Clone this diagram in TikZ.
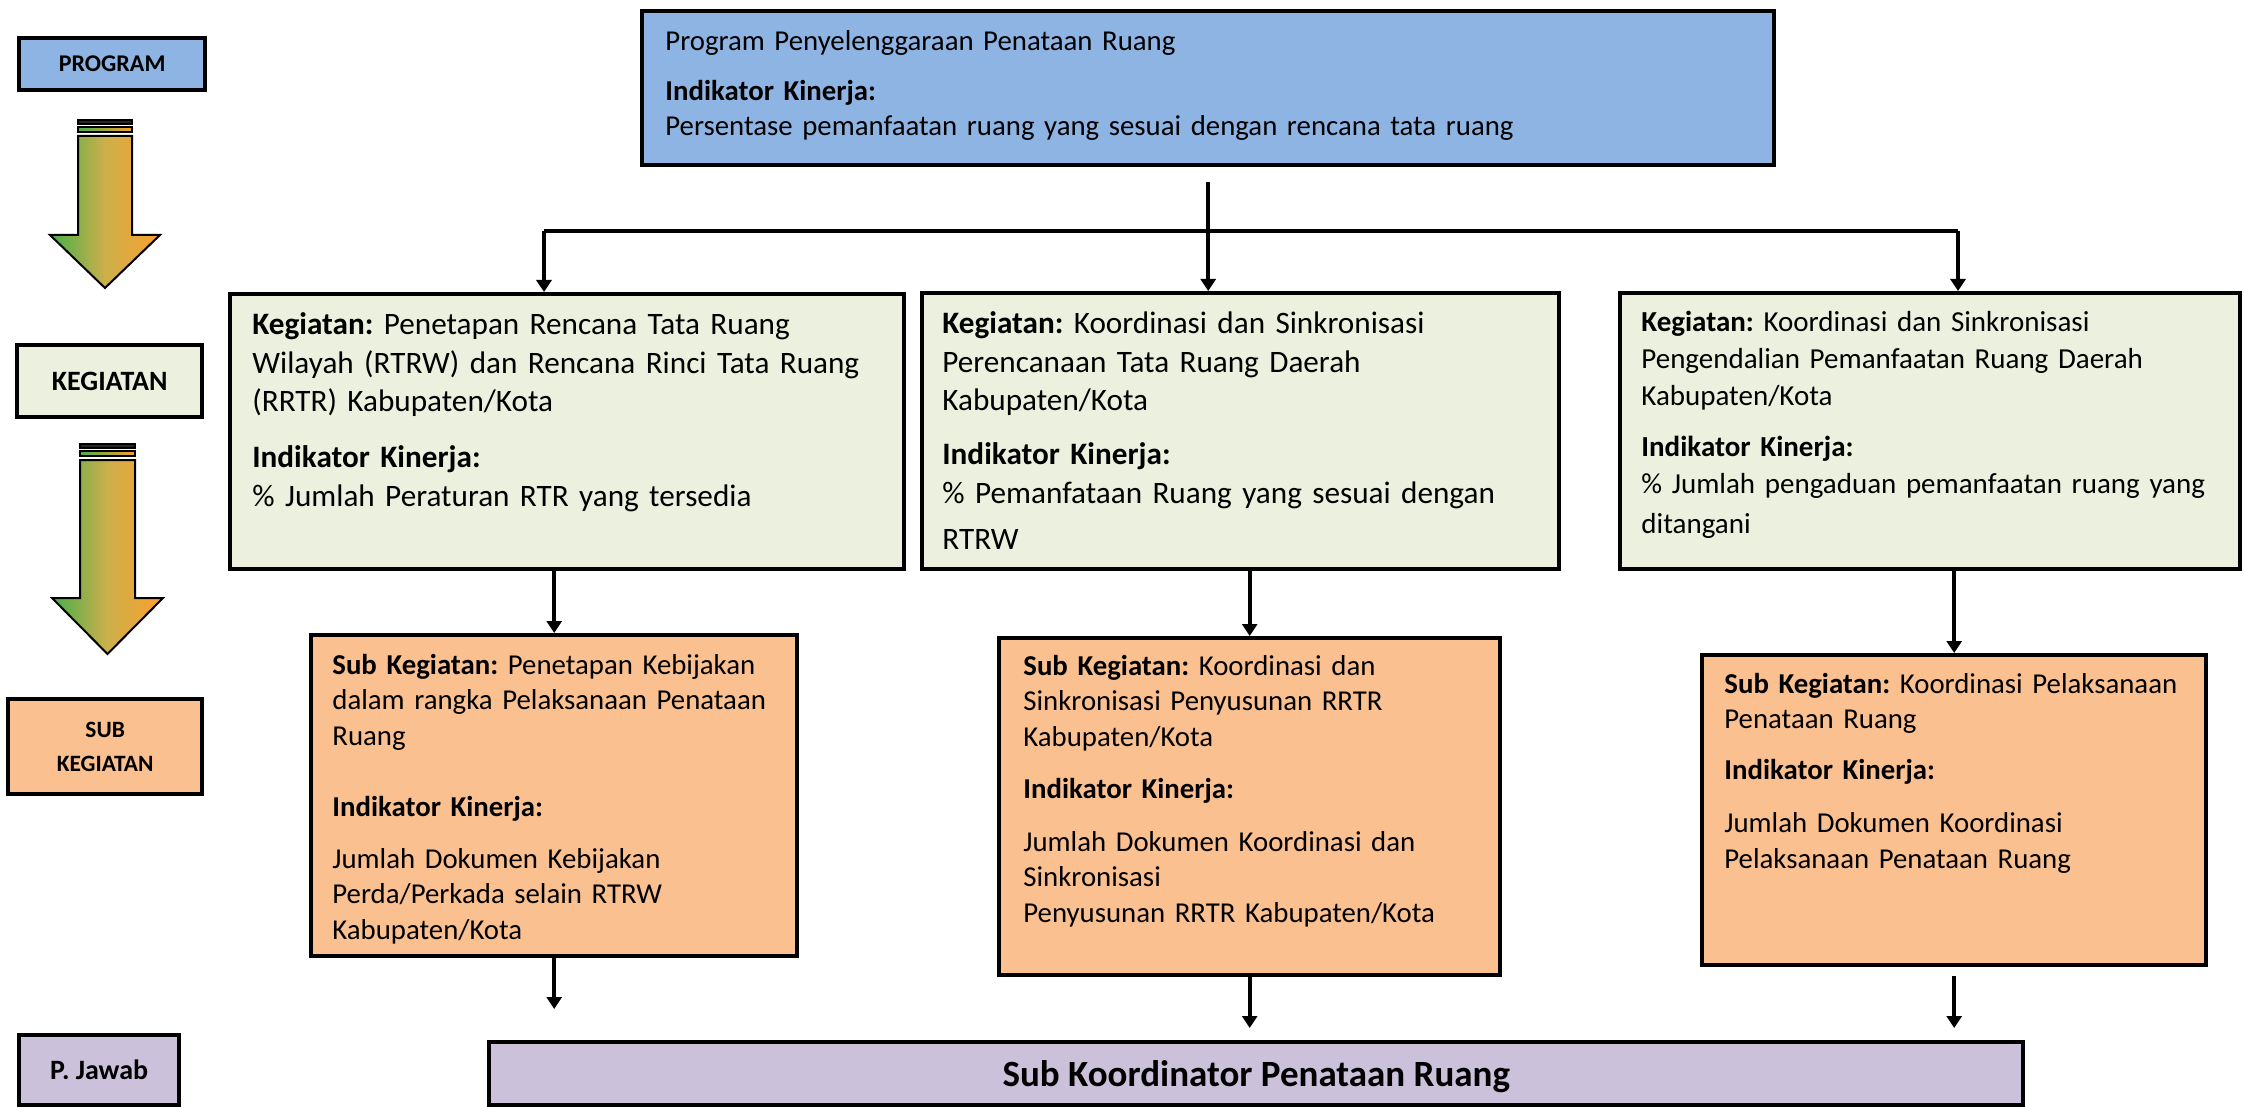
\documentclass[tikz,border=0pt]{standalone}
\usepackage{fontspec}
\setmainfont{Carlito}
\usetikzlibrary{arrows.meta,calc}
\definecolor{progblue}{HTML}{8EB4E3}
\definecolor{kegfill}{HTML}{EBF1DE}
\definecolor{subfill}{HTML}{FAC090}
\definecolor{pjfill}{HTML}{CCC1DA}
\definecolor{agreen}{RGB}{70,175,75}
\definecolor{aolive}{RGB}{205,175,75}
\definecolor{aorange}{RGB}{250,160,45}
\frenchspacing
\begin{document}
\begin{tikzpicture}[x=0.5pt,y=-0.5pt,
  box/.style={draw=black, line width=2.2pt, rectangle, inner sep=0pt, anchor=north west},
  progbox/.style={box, fill=progblue},
  kegbox/.style={box, fill=kegfill},
  subbox/.style={box, fill=subfill},
  pjbox/.style={box, fill=pjfill},
  lbl/.style={align=center, font=\bfseries},
  txt/.style={anchor=base west, inner sep=0pt, align=left, text width=600pt},
  bigtxt/.style={txt, font=\fontsize{15.6}{19.25}\selectfont},
  midtxt/.style={txt, font=\fontsize{14.4}{17.75}\selectfont},
  conn/.style={line width=2pt},
  arr/.style={conn, -{Triangle[length=6pt,width=7.5pt]}},
  flowarrow/.style={draw=black, line width=1pt, line join=miter, left color=agreen, right color=aorange, middle color=aolive},
  stripe/.style={draw=black, line width=0.8pt}
]
\useasboundingbox (0,0) rectangle (2244,1107);
\fill[white] (0,0) rectangle (2244,1107);

% ---------- left legend ----------
\node[progbox, minimum width=93pt, minimum height=26pt, lbl, font=\bfseries\fontsize{12}{14}\selectfont] (lprog) at (17,36) {PROGRAM};
\node[kegbox, minimum width=92.5pt, minimum height=36pt, lbl, font=\bfseries\fontsize{14}{17}\selectfont] (lkeg) at (15,343) {KEGIATAN};
\node[subbox, minimum width=97pt, minimum height=47.5pt, lbl, font=\bfseries\fontsize{11.7}{17}\selectfont] (lsub) at (6,697) {SUB\\KEGIATAN};
\node[pjbox, minimum width=80pt, minimum height=35pt, lbl, font=\bfseries\fontsize{14}{17}\selectfont] (lpj) at (17,1033) {P. Jawab};

% gradient arrows
\path[stripe, fill=black!85] (78,120) rectangle (132,124);
\path[stripe, left color=agreen, right color=aorange] (78,127) rectangle (132,132);
\path[flowarrow] (78,136) -- (132,136) -- (132,235) -- (160,235) -- (105,288) -- (50,235) -- (78,235) -- cycle;

\path[stripe, fill=black!85] (80,444) rectangle (135,448);
\path[stripe, left color=agreen, right color=aorange] (80,451) rectangle (135,456);
\path[flowarrow] (80,460) -- (135,460) -- (135,598) -- (163,598) -- (107.5,654) -- (52,598) -- (80,598) -- cycle;

% ---------- program ----------
\node[progbox, minimum width=566pt, minimum height=77pt] (prog) at (640,9) {};
\node[midtxt] (progt) at (665,51) {Program Penyelenggaraan Penataan Ruang\\[7pt]
\textbf{Indikator Kinerja:}\\
Persentase pemanfaatan ruang yang sesuai dengan rencana tata ruang};

% ---------- kegiatan ----------
\node[kegbox, minimum width=337pt, minimum height=137.5pt] (k1) at (228,292) {};
\node[bigtxt] (k1t) at (252,335) {\textbf{Kegiatan:} Penetapan Rencana Tata Ruang\\
Wilayah (RTRW) dan Rencana Rinci Tata Ruang\\
(RRTR) Kabupaten/Kota\\[8.75pt]
\textbf{Indikator Kinerja:}\\
\% Jumlah Peraturan RTR yang tersedia};

\node[kegbox, minimum width=318.5pt, minimum height=138pt] (k2) at (920,291) {};
\node[bigtxt] (k2t) at (942,334) {\textbf{Kegiatan:} Koordinasi dan Sinkronisasi\\
Perencanaan Tata Ruang Daerah\\
Kabupaten/Kota\\[7.75pt]
\textbf{Indikator Kinerja:}\\
\% Pemanfataan Ruang yang sesuai dengan\\[3.75pt]
RTRW};

\node[kegbox, minimum width=310pt, minimum height=138pt] (k3) at (1618,291) {};
\node[txt, font=\fontsize{14.5}{18.25}\selectfont] (k3t) at (1641,332) {\textbf{Kegiatan:} Koordinasi dan Sinkronisasi\\
Pengendalian Pemanfaatan Ruang Daerah\\
Kabupaten/Kota\\[7.75pt]
\textbf{Indikator Kinerja:}\\
\% Jumlah pengaduan pemanfaatan ruang yang\\[1.75pt]
ditangani};

% ---------- sub kegiatan ----------
\node[subbox, minimum width=243pt, minimum height=160.5pt] (s1) at (309,633) {};
\node[midtxt] (s1t) at (332,674) {\textbf{Sub Kegiatan:} Penetapan Kebijakan\\
dalam rangka Pelaksanaan Penataan\\
Ruang\\[17.75pt]
\textbf{Indikator Kinerja:}\\[8.25pt]
Jumlah Dokumen Kebijakan\\
Perda/Perkada selain RTRW\\
Kabupaten/Kota};

\node[subbox, minimum width=250.5pt, minimum height=168.5pt] (s2) at (997,636) {};
\node[midtxt] (s2t) at (1023,675) {\textbf{Sub Kegiatan:} Koordinasi dan\\
Sinkronisasi Penyusunan RRTR\\
Kabupaten/Kota\\[8.25pt]
\textbf{Indikator Kinerja:}\\[8.75pt]
Jumlah Dokumen Koordinasi dan\\
Sinkronisasi\\
Penyusunan RRTR Kabupaten/Kota};

\node[subbox, minimum width=252pt, minimum height=155pt] (s3) at (1700,653) {};
\node[midtxt] (s3t) at (1724,693) {\textbf{Sub Kegiatan:} Koordinasi Pelaksanaan\\
Penataan Ruang\\[7.75pt]
\textbf{Indikator Kinerja:}\\[8.75pt]
Jumlah Dokumen Koordinasi\\
Pelaksanaan Penataan Ruang};

% ---------- penanggung jawab ----------
\node[pjbox, minimum width=767pt, minimum height=31.5pt, text depth=0pt, font=\bfseries\fontsize{18.5}{22}\selectfont] (pj) at (487,1040) {Sub Koordinator Penataan Ruang};

% ---------- connectors ----------
\coordinate (busL) at (544,231);
\coordinate (busR) at (1958,231);
\draw[conn, shorten <=7.5pt] (prog.south) -- (prog.south |- busL);
\draw[conn] (busL) -- (busR);
\draw[arr] (busL) -- (busL |- k1.north);
\draw[arr] (prog.south |- busL) -- (prog.south |- k2.north);
\draw[arr] (busR) -- (busR |- k3.north);

\draw[arr] (s1.north |- k1.south) -- (s1.north);
\draw[arr] (s2.north |- k2.south) -- (s2.north);
\draw[arr] (s3.north |- k3.south) -- (s3.north);

\draw[arr, shorten >=15.5pt] (s1.south) -- (s1.south |- pj.north);
\draw[arr, shorten >=6pt] (s2.south) -- (s2.south |- pj.north);
\draw[arr, shorten <=4.5pt, shorten >=6pt] (s3.south) -- (s3.south |- pj.north);
\end{tikzpicture}
\end{document}
